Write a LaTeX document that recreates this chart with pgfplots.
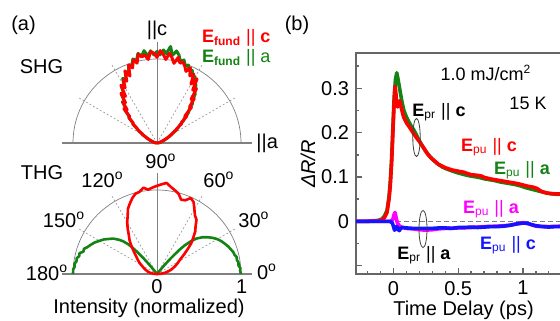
\documentclass[border=0pt]{standalone}
\usepackage{fontspec}
\setmainfont{Liberation Sans}
\usepackage{pgfplots}
\usepackage{pgfplotstable}
\pgfplotsset{compat=1.18}
\definecolor{cred}{RGB}{255,0,0}
\definecolor{cgreen}{RGB}{20,130,20}
\definecolor{cblue}{RGB}{20,20,255}
\definecolor{cmag}{RGB}{255,0,255}
\definecolor{cgrid}{RGB}{128,128,128}
\definecolor{cdash}{RGB}{150,150,150}

% SHG, E_fund || c (angle in degrees, normalized intensity)
\pgfplotstableread{
a r
0 0
2 0.006
4 0.01
6 0.016
8 0.02
10 0.028
12 0.03
14 0.044
16 0.047
18 0.065
20 0.074
22 0.095
24 0.108
26 0.145
28 0.155
30 0.20
32 0.21
34 0.28
36 0.29
38 0.37
40 0.38
42 0.48
44 0.46
46 0.59
48 0.58
50 0.69
52 0.66
54 0.80
56 0.76
58 0.90
60 0.81
62 0.93
64 0.89
66 0.98
68 0.92
70 0.97
72 1.01
74 0.99
76 1.05
78 0.97
80 1.03
82 1.08
84 1.00
86 1.06
88 1.10
90 1.02
92 1.07
94 1.09
96 1.00
98 1.06
100 1.04
102 1.08
104 0.98
106 1.03
108 0.94
110 0.99
112 0.86
114 0.94
116 0.82
118 0.85
120 0.76
122 0.81
124 0.67
126 0.73
128 0.61
130 0.63
132 0.53
134 0.57
136 0.45
138 0.45
140 0.37
142 0.36
144 0.29
146 0.27
148 0.21
150 0.20
152 0.15
154 0.14
156 0.105
158 0.095
160 0.075
162 0.066
164 0.05
166 0.045
168 0.035
170 0.028
172 0.02
174 0.014
176 0.008
178 0.004
180 0
}\shgred

% SHG, E_fund || a
\pgfplotstableread{
a r
0 0
2 0.005
4 0.01
6 0.014
8 0.022
10 0.026
12 0.034
14 0.04
16 0.052
18 0.06
20 0.08
22 0.088
24 0.115
26 0.13
28 0.165
30 0.18
32 0.23
34 0.25
36 0.31
38 0.34
40 0.41
42 0.44
44 0.52
46 0.55
48 0.63
50 0.65
52 0.74
54 0.76
56 0.83
58 0.85
60 0.91
62 0.90
64 0.96
66 0.94
68 1.00
70 0.98
72 1.04
74 1.01
76 1.08
78 1.12
80 1.06
82 1.16
84 1.07
86 1.11
88 1.05
90 1.09
92 1.05
94 1.10
96 1.04
98 1.11
100 1.05
102 1.09
104 1.01
106 1.04
108 0.97
110 0.98
112 0.91
114 0.92
116 0.84
118 0.87
120 0.78
122 0.80
124 0.71
126 0.72
128 0.63
130 0.64
132 0.55
134 0.55
136 0.47
138 0.45
140 0.38
142 0.36
144 0.30
146 0.27
148 0.22
150 0.19
152 0.155
154 0.13
156 0.105
158 0.085
160 0.07
162 0.06
164 0.048
166 0.04
168 0.032
170 0.025
172 0.018
174 0.012
176 0.007
178 0.003
180 0
}\shggreen

% THG, E_fund || c
\pgfplotstableread{
a r
0 0
3 0.03
6 0.065
9 0.10
12 0.125
15 0.155
18 0.185
21 0.21
24 0.24
27 0.27
30 0.30
33 0.34
36 0.40
39 0.47
42 0.55
45 0.61
48 0.68
51 0.73
54 0.80
57 0.83
60 0.89
63 0.96
66 0.99
69 0.94
72 0.93
75 0.99
78 1.02
81 1.05
84 1.09
87 1.07
90 1.05
93 1.03
96 1.01
99 1.04
102 1.00
105 0.99
108 0.95
111 0.90
114 0.85
117 0.77
120 0.71
123 0.64
126 0.57
129 0.52
132 0.46
135 0.40
138 0.35
141 0.31
144 0.28
147 0.25
150 0.22
153 0.19
156 0.17
159 0.15
162 0.13
165 0.115
168 0.095
171 0.075
174 0.05
177 0.025
180 0
}\thgred

% THG, E_fund || a
\pgfplotstableread{
a r
0 1.00
2 0.99
4 0.995
6 0.975
8 0.98
10 0.965
12 0.97
14 0.95
16 0.945
18 0.93
21 0.91
24 0.885
27 0.86
30 0.83
33 0.79
36 0.745
39 0.695
42 0.63
44 0.56
46 0.47
47 0.40
48 0.31
49 0.22
50 0.14
51 0.07
52 0.02
53 0
90 0
127 0
128 0.03
129 0.10
130 0.19
131 0.28
132 0.36
133 0.43
134 0.49
136 0.56
138 0.61
141 0.67
144 0.71
147 0.755
150 0.79
153 0.83
156 0.86
159 0.89
161 0.92
163 0.915
165 0.955
167 0.95
169 0.975
171 0.97
173 0.99
175 0.985
177 1.0
180 1.0
}\thggreen

% Pump-probe, E_pr || c, E_pu || c
\pgfplotstableread{
t v
-0.29 0
-0.2 0
-0.12 0.001
-0.09 0.003
-0.07 0.008
-0.05 0.02
-0.035 0.05
-0.025 0.08
-0.015 0.13
-0.005 0.2
0.005 0.27
0.012 0.305
0.018 0.29
0.025 0.262
0.032 0.258
0.04 0.268
0.047 0.272
0.055 0.262
0.077 0.236
0.10 0.222
0.129 0.21
0.155 0.198
0.181 0.187
0.205 0.178
0.232 0.166
0.26 0.153
0.283 0.145
0.31 0.138
0.35 0.128
0.40 0.121
0.45 0.116
0.50 0.113
0.54 0.111
0.57 0.108
0.60 0.105
0.64 0.104
0.68 0.102
0.70 0.099
0.73 0.097
0.76 0.095
0.80 0.093
0.84 0.091
0.88 0.089
0.92 0.087
0.96 0.085
1.00 0.082
1.04 0.079
1.08 0.077
1.11 0.074
1.14 0.068
1.17 0.065
1.20 0.063
1.25 0.062
1.30 0.062
}\redb

% E_pr || c, E_pu || a
\pgfplotstableread{
t v
-0.29 0
-0.2 0
-0.12 0.002
-0.09 0.005
-0.07 0.012
-0.05 0.025
-0.035 0.055
-0.025 0.09
-0.015 0.14
-0.005 0.21
0.005 0.28
0.015 0.32
0.025 0.335
0.035 0.32
0.05 0.295
0.065 0.27
0.08 0.25
0.10 0.235
0.13 0.218
0.155 0.207
0.18 0.193
0.21 0.176
0.24 0.162
0.27 0.15
0.30 0.14
0.34 0.13
0.38 0.122
0.42 0.117
0.46 0.113
0.50 0.109
0.54 0.106
0.58 0.103
0.62 0.101
0.66 0.099
0.70 0.096
0.74 0.094
0.78 0.092
0.82 0.089
0.86 0.087
0.90 0.085
0.94 0.083
0.98 0.080
1.02 0.076
1.06 0.073
1.10 0.070
1.14 0.067
1.18 0.064
1.22 0.062
1.26 0.061
1.30 0.061
}\greenb

% E_pr || a, E_pu || c
\pgfplotstableread{
t v
-0.29 0
-0.1 0
-0.03 0
-0.01 -0.003
0.0 -0.012
0.008 -0.02
0.015 -0.018
0.022 -0.012
0.03 -0.013
0.038 -0.019
0.045 -0.021
0.055 -0.016
0.07 -0.014
0.1 -0.015
0.15 -0.016
0.2 -0.016
0.25 -0.016
0.3 -0.016
0.35 -0.015
0.4 -0.015
0.45 -0.016
0.5 -0.014
0.55 -0.014
0.6 -0.013
0.65 -0.014
0.7 -0.013
0.75 -0.012
0.8 -0.012
0.85 -0.011
0.9 -0.009
0.95 -0.006
1.0 -0.004
1.03 -0.004
1.06 -0.007
1.1 -0.01
1.15 -0.012
1.2 -0.013
1.25 -0.012
1.3 -0.012
}\blueb

% E_pr || a, E_pu || a
\pgfplotstableread{
t v
-0.29 0
-0.1 0
-0.02 0
-0.005 0.005
0.005 0.016
0.012 0.02
0.02 0.008
0.03 -0.004
0.045 -0.01
0.06 -0.013
0.1 -0.016
0.15 -0.017
0.2 -0.019
0.25 -0.02
0.3 -0.019
0.35 -0.017
0.4 -0.016
0.5 -0.015
0.6 -0.014
0.7 -0.012
0.8 -0.011
0.9 -0.009
0.95 -0.006
1.0 -0.003
1.05 -0.006
1.1 -0.011
1.2 -0.012
1.3 -0.011
}\magb

\begin{document}
\begin{tikzpicture}
\useasboundingbox (0,0) rectangle (280pt,-160pt);

% ---------- SHG polar ----------
\begin{axis}[scale only axis, width=109.2pt, height=54.6pt,
  xmin=-1.3, xmax=1.3, ymin=0, ymax=1.3, hide axis, clip=false,
  at={(23.9pt,-71.5pt)}, anchor=south west]
\draw[cgrid, line width=0.35pt] (axis cs:1,0) arc[start angle=0,end angle=180,radius=42pt];
\draw[cgrid, line width=0.6pt] (axis cs:-1.13,0) -- (axis cs:1.13,0);
\draw[cgrid, line width=0.5pt] (axis cs:0,0) -- (axis cs:0,1.2);
\draw[cdash, line width=0.3pt, dash pattern=on 1pt off 1pt] (axis cs:0,0) -- ++(30:45.4pt);
\draw[cdash, line width=0.3pt, dash pattern=on 1pt off 1pt] (axis cs:0,0) -- ++(60:45.4pt);
\draw[cdash, line width=0.3pt, dash pattern=on 1pt off 1pt] (axis cs:0,0) -- ++(120:45.4pt);
\draw[cdash, line width=0.3pt, dash pattern=on 1pt off 1pt] (axis cs:0,0) -- ++(150:45.4pt);
\addplot[cgreen, line width=1.5pt, data cs=polar, line join=round] table[x=a,y=r] {\shggreen};
\addplot[cred, line width=1.5pt, data cs=polar, line join=round] table[x=a,y=r] {\shgred};
\end{axis}

% ---------- THG polar ----------
\begin{axis}[scale only axis, width=109.2pt, height=54.6pt,
  xmin=-1.3, xmax=1.3, ymin=0, ymax=1.3, hide axis, clip=false,
  at={(23.9pt,-137pt)}, anchor=south west]
\draw[cgrid, line width=0.35pt] (axis cs:1,0) arc[start angle=0,end angle=180,radius=42pt];
\draw[cgrid, line width=0.6pt] (axis cs:-1.13,0) -- (axis cs:1.13,0);
\draw[cgrid, line width=0.5pt] (axis cs:0,0) -- (axis cs:0,1.2);
\draw[cdash, line width=0.3pt, dash pattern=on 1pt off 1pt] (axis cs:0,0) -- ++(30:45.4pt);
\draw[cdash, line width=0.3pt, dash pattern=on 1pt off 1pt] (axis cs:0,0) -- ++(60:45.4pt);
\draw[cdash, line width=0.3pt, dash pattern=on 1pt off 1pt] (axis cs:0,0) -- ++(120:45.4pt);
\draw[cdash, line width=0.3pt, dash pattern=on 1pt off 1pt] (axis cs:0,0) -- ++(150:45.4pt);
\addplot[cgreen, line width=1.3pt, data cs=polar, line join=round] table[x=a,y=r] {\thggreen};
\addplot[cred, line width=1.3pt, data cs=polar, line join=round] table[x=a,y=r] {\thgred};
\end{axis}

% ---------- Pump-probe ----------
\begin{axis}[scale only axis, width=102.85pt, height=110.5pt,
  at={(178pt,-137pt)}, anchor=south west,
  xmin=-0.29, xmax=1.3, ymin=-0.1189, ymax=0.3797,
  xtick={0,0.5,1}, xticklabels={0,0.5,1},
  minor xtick={-0.2,-0.1,0.1,0.2,0.3,0.4,0.6,0.7,0.8,0.9,1.1,1.2},
  ytick={-0.1,0,0.1,0.2,0.3}, yticklabels={,0,0.1,0.2,0.3},
  minor ytick={-0.05,0.05,0.15,0.25,0.35},
  tick pos=left, tick align=inside,
  major tick length=3pt, minor tick length=1.7pt,
  axis line style={black!60, line width=0.9pt},
  every tick/.style={black!60, line width=0.7pt},
  tick label style={font=\fontsize{10}{12}\selectfont},
  clip=true]
\draw[cgrid, line width=0.7pt, dash pattern=on 2.5pt off 1.5pt] (axis cs:-0.29,0) -- (axis cs:1.3,0);
\addplot[cgreen, line width=1.8pt, line join=round] table[x=t,y=v] {\greenb};
\addplot[cred, line width=1.8pt, line join=round] table[x=t,y=v] {\redb};
\addplot[cmag, line width=1.8pt, line join=round] table[x=t,y=v] {\magb};
\addplot[cblue, line width=1.8pt, line join=round] table[x=t,y=v] {\blueb};
\end{axis}

% ---------- text (pixel coordinates) ----------
\begin{scope}[x=0.5pt, y=-0.5pt, every node/.style={inner sep=0pt, font=\fontsize{10}{12}\selectfont}]
\node at (23.5,25) {(a)};
\node at (297,25) {(b)};
\node at (41.5,67) {SHG};
\node at (42,173) {THG};
\node at (157,30) {||c};
\node[anchor=west] at (256,143) {||a};
\node[anchor=west, text=cred, font=\fontsize{9}{10}\selectfont] at (201.7,38) {\textbf{E}\textsubscript{\textbf{fund}} || \textbf{c}};
\node[anchor=west, text=cgreen, font=\fontsize{9}{10}\selectfont] at (201.7,58) {\textbf{E}\textsubscript{\textbf{fund}} || a};
\node[anchor=base] at (161,169) {90\textsuperscript{o}};
\node[anchor=base] at (102.5,187) {120\textsuperscript{o}};
\node[anchor=base] at (219,187) {60\textsuperscript{o}};
\node[anchor=base] at (64,227) {150\textsuperscript{o}};
\node[anchor=base] at (254,227) {30\textsuperscript{o}};
\node[anchor=base] at (47,280) {180\textsuperscript{o}};
\node[anchor=base] at (267,279) {0\textsuperscript{o}};
\node at (157,287) {0};
\node at (241.7,287) {1};
\node at (149,308) {Intensity (normalized)};
% panel (b)
\node at (463.5,310) {Time Delay (ps)};
\node[rotate=90] at (308,164) {\textit{ΔR/R}};
\node[font=\fontsize{9}{10}\selectfont] at (486,73) {1.0 mJ/cm\textsuperscript{2}};
\node[font=\fontsize{9}{10}\selectfont] at (528,103) {15 K};
\node[font=\fontsize{9}{10}\selectfont] at (439,112) {\textbf{E}\textsubscript{pr} || \textbf{c}};
\node[font=\fontsize{9}{10}\selectfont, text=cred] at (489,147) {\textbf{E}\textsubscript{pu} || \textbf{c}};
\node[font=\fontsize{9}{10}\selectfont, text=cgreen] at (522,170) {\textbf{E}\textsubscript{pu} || \textbf{a}};
\node[font=\fontsize{9}{10}\selectfont, text=cmag] at (491,209) {\textbf{E}\textsubscript{pu} || \textbf{a}};
\node[font=\fontsize{9}{10}\selectfont] at (424,255) {\textbf{E}\textsubscript{pr} || \textbf{a}};
\node[font=\fontsize{9}{10}\selectfont, text=cblue] at (508,245) {\textbf{E}\textsubscript{pu} || \textbf{c}};
\draw[black!75, line width=0.4pt] (416.5,137.5) ellipse [x radius=1.85pt, y radius=9.5pt];
\draw[black!75, line width=0.4pt] (423,229) ellipse [x radius=2pt, y radius=9.3pt];
\end{scope}
\end{tikzpicture}
\end{document}
